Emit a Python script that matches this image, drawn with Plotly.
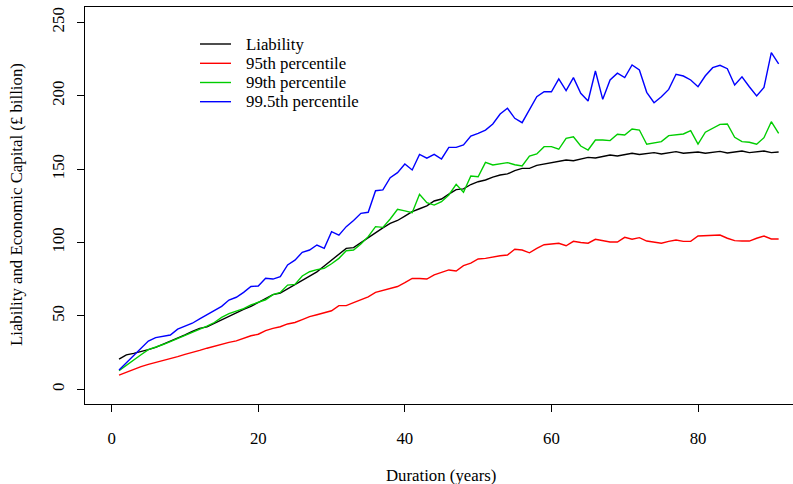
import plotly.graph_objects as go

duration = list(range(1, 92))

liability = [20.5, 23.5, 24.5, 25.5, 27.0, 28.5, 30.5, 32.5, 34.5, 37.0,
             39.5, 41.5, 42.5, 45.0, 47.0, 49.5, 52.0, 54.5, 56.5, 59.0,
             62.0, 64.5, 65.5, 68.5, 71.0, 74.0, 77.0, 80.0, 84.0, 88.0,
             92.0, 96.0, 96.5, 100.0, 103.0, 106.5, 110.0, 113.0, 115.0, 118.0,
             121.0, 123.0, 125.0, 128.3, 129.6, 133.0, 136.0, 136.5, 139.5, 141.4,
             142.6, 144.5, 146.0, 146.7, 149.0, 150.5, 150.5, 152.5, 153.5, 154.0,
             155.0, 156.2, 155.7, 157.0, 158.0, 157.6, 158.5, 159.6, 158.9, 160.0,
             160.8, 160.0, 160.8, 161.2, 160.3, 161.0, 161.9, 160.8, 161.2, 161.6,
             160.8, 161.5, 162.1, 161.0, 161.7, 162.3, 161.2, 161.8, 162.3, 161.2,
             161.6]

p95 = [9.7, 11.8, 13.6, 15.5, 17.0, 18.2, 19.5, 21.0, 22.3, 23.8,
       25.0, 26.5, 28.0, 29.5, 31.0, 32.0, 33.0, 35.0, 36.5, 37.5,
       40.0, 41.5, 42.6, 44.5, 45.5, 47.5, 49.5, 50.8, 52.0, 53.5,
       57.0, 57.0, 59.0, 61.0, 63.0, 66.0, 67.5, 69.0, 70.0, 72.6,
       75.5, 75.5, 75.1, 77.9, 79.4, 81.3, 80.6, 84.2, 86.0, 88.8,
       89.2, 90.3, 91.0, 91.5, 95.4, 94.9, 93.0, 96.0, 98.5, 99.0,
       99.5, 97.8, 100.8, 100.0, 99.5, 102.2, 101.2, 100.3, 100.3, 103.5,
       102.2, 103.3, 101.0, 100.5, 99.5, 100.8, 101.7, 100.8, 100.8, 104.4,
       104.6, 104.8, 105.1, 102.9, 101.3, 101.0, 101.0, 102.9, 104.4, 102.4,
       102.4]

p99 = [12.7, 16.5, 20.0, 23.5, 27.0, 28.5, 30.5, 32.5, 34.5, 37.0,
       39.0, 41.0, 43.0, 45.5, 49.0, 51.5, 53.0, 55.0, 57.5, 59.0,
       61.0, 64.5, 66.0, 71.0, 71.5, 77.2, 80.1, 81.5, 82.4, 85.5,
       89.2, 94.4, 94.9, 99.0, 104.0, 110.8, 110.3, 116.0, 122.6, 121.5,
       120.3, 132.8, 127.1, 125.5, 127.8, 132.4, 139.6, 134.2, 145.3, 144.8,
       154.6, 152.8, 153.5, 154.4, 153.0, 152.1, 158.9, 160.3, 165.3, 165.3,
       163.5, 171.0, 172.0, 165.7, 163.0, 169.8, 169.8, 169.4, 173.7, 173.2,
       177.3, 176.6, 166.9, 167.6, 168.7, 172.8, 173.2, 173.9, 176.2, 167.1,
       175.1, 177.8, 180.5, 180.7, 171.7, 168.7, 168.3, 166.9, 171.4, 182.3,
       174.4]

p995 = [13.1, 18.0, 23.4, 28.0, 32.9, 35.2, 36.0, 37.0, 41.0, 43.0,
        45.0, 48.0, 51.0, 53.5, 56.5, 60.8, 62.7, 66.0, 70.0, 70.4,
        75.6, 75.1, 76.7, 84.7, 88.0, 93.3, 94.9, 98.3, 96.0, 107.4,
        105.0, 110.8, 115.0, 119.9, 120.6, 135.3, 135.8, 144.1, 147.6, 153.5,
        149.4, 160.0, 157.4, 160.0, 156.9, 164.8, 164.8, 166.4, 172.5, 174.4,
        176.6, 180.7, 187.5, 191.4, 184.6, 181.6, 190.3, 199.3, 202.7, 202.7,
        211.4, 203.4, 212.3, 201.6, 196.4, 216.8, 197.5, 210.7, 215.3, 212.3,
        220.9, 217.5, 202.3, 195.2, 199.3, 204.3, 214.6, 213.4, 210.7, 206.1,
        213.6, 219.1, 220.7, 218.4, 207.3, 212.9, 206.1, 199.8, 205.7, 229.3,
        221.6]

series_names = ["Liability", "95th percentile", "99th percentile", "99.5th percentile"]
series_values = [liability, p95, p99, p995]
series_colors = ["#000000", "#FF0000", "#00CD00", "#0000FF"]

x_ticks = [0, 20, 40, 60, 80]
y_ticks = [0, 50, 100, 150, 200, 250]

W, H = 793, 484
L, T = 85, 7
PW, PH = 793 - 85, 404 - 7
FONT = "Liberation Serif"
FS = 16.8


def px(xp):
    return (xp - L) / PW


def py(yp):
    return (T + PH - yp) / PH


fig = go.Figure()
for name, vals, col in zip(series_names, series_values, series_colors):
    fig.add_trace(go.Scatter(x=duration, y=vals, mode="lines", name=name,
                             line=dict(color=col, width=1.4), showlegend=False))

# manual legend (R-style, no box)
leg_y = [44, 63.3, 82.5, 101.7]
shapes = []
annotations = []
for name, col, ly in zip(series_names, series_colors, leg_y):
    shapes.append(dict(type="line", xref="paper", yref="paper",
                       x0=px(200), x1=px(231), y0=py(ly), y1=py(ly),
                       line=dict(color=col, width=1.4)))
    annotations.append(dict(text=name, xref="paper", yref="paper",
                            x=px(244), y=py(ly), xanchor="left", yanchor="middle",
                            showarrow=False, font=dict(family=FONT, size=FS, color="black")))

annotations.append(dict(text="Duration (years)", xref="paper", yref="paper",
                        x=px(441.5), y=py(476), xanchor="center", yanchor="middle",
                        showarrow=False, font=dict(family=FONT, size=FS, color="black")))
annotations.append(dict(text="Liability and Economic Capital (£ billion)", xref="paper", yref="paper",
                        x=px(17), y=py(205), xanchor="center", yanchor="middle", textangle=-90,
                        showarrow=False, font=dict(family=FONT, size=FS, color="black")))

fig.update_layout(
    width=W, height=H,
    margin=dict(l=L, r=0, t=T, b=H - (T + PH)),
    paper_bgcolor="white", plot_bgcolor="white",
    shapes=shapes, annotations=annotations,
    font=dict(family=FONT, size=FS, color="black"),
    xaxis=dict(range=[(85 - 111.7) / 7.329, (793 - 111.7) / 7.329],
               tickvals=x_ticks, ticktext=[str(v) for v in x_ticks],
               ticks="outside", ticklen=7, tickwidth=1, tickcolor="black",
               showline=True, linecolor="black", linewidth=1, mirror=True,
               showgrid=False, zeroline=False, ticklabelstandoff=12),
    yaxis=dict(range=[(389.3 - 404) / 1.468, (389.3 - 7) / 1.468],
               tickvals=y_ticks, ticktext=[str(v) for v in y_ticks],
               ticks="outside", ticklen=7, tickwidth=1, tickcolor="black",
               showline=True, linecolor="black", linewidth=1, mirror=False,
               showgrid=False, zeroline=False, tickangle=-90, ticklabelstandoff=6),
)

fig.write_html("out.html", config={"displayModeBar": False},
               post_script="document.body.style.margin='0';document.body.style.overflow='hidden';")
